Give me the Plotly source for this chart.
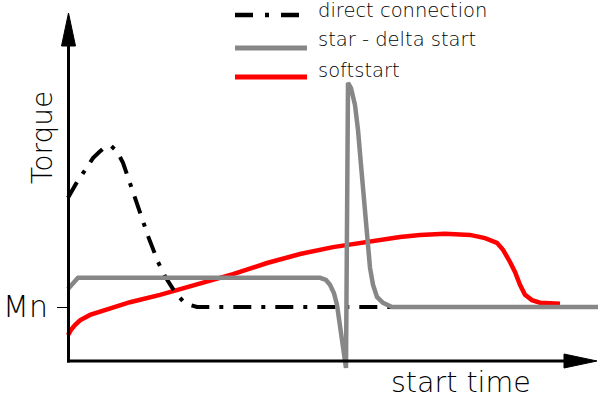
import plotly.graph_objects as go

# ---- data (time in arbitrary units, torque in multiples of Mn) ----
direct_t = [0, 1.8, 3.4, 5.0, 6.2, 7.4, 8.6, 9.8, 11.0, 12.0, 13.0, 14.0, 15.0, 16.0,
            17.0, 18.0, 19.4, 21.4, 23.0, 24.4, 25.8, 104.4]
direct_T = [3.06, 3.36, 3.58, 3.81, 3.92, 4.02, 4.04, 3.94, 3.72, 3.43, 3.17, 2.89, 2.62, 2.34,
            2.08, 1.85, 1.58, 1.28, 1.11, 1.04, 1.0, 1.0]

stardelta_t = [0, 1.0, 2.0, 50.4, 51.6, 52.4, 53.2, 53.8, 54.4, 55.0, 55.6, 56.0, 56.6, 57.4,
               58.0, 58.6, 59.2, 59.6, 60.0, 60.4, 61.0, 61.8, 63.0, 64.8, 106]
stardelta_T = [1.34, 1.45, 1.55, 1.55, 1.51, 1.42, 1.26, 1.04, 0.66, 0.23, -0.15, 5.23, 5.13, 4.81,
               4.34, 3.68, 3.02, 2.55, 2.08, 1.74, 1.42, 1.19, 1.08, 1.0, 1.0]

soft_t = [0, 0.6, 1.4, 2.4, 4.4, 8.4, 12.4, 18.4, 23.4, 28.4, 33.0, 39.8, 46.4, 53.0, 59.8,
          66.4, 70.4, 75.4, 80.4, 83.4, 85.8, 87.0, 88.4, 89.4, 90.4, 91.4, 92.8, 94.4, 98.4]
soft_T = [0.47, 0.57, 0.66, 0.75, 0.85, 0.98, 1.09, 1.23, 1.36, 1.49, 1.62, 1.83, 2.00, 2.13, 2.23,
          2.32, 2.36, 2.38, 2.36, 2.30, 2.21, 2.08, 1.85, 1.66, 1.42, 1.23, 1.13, 1.08, 1.06]

series_names = ["direct connection", "star - delta start", "softstart"]
axis_labels = {"y": "Torque", "x": "start time", "tick": "Mn"}

W, H = 598, 400
FONT = "DejaVu Sans"
WEIGHT = 300


def px(x):
    return x / W


def py(y):
    return 1 - y / H


fig = go.Figure()
fig.add_trace(go.Scatter(x=soft_t, y=soft_T, mode="lines", name=series_names[2],
                         line=dict(color="#ff0000", width=4.5)))
fig.add_trace(go.Scatter(x=direct_t, y=direct_T, mode="lines", name=series_names[0],
                         line=dict(color="#000000", width=4, dash="18px,10px,4px,10px")))
fig.add_trace(go.Scatter(x=stardelta_t, y=stardelta_T, mode="lines", name=series_names[1],
                         line=dict(color="#878787", width=4.5)))

shapes = []
# axes
shapes.append(dict(type="line", xref="paper", yref="paper", x0=px(67), y0=py(361), x1=px(566), y1=py(361),
                   line=dict(color="black", width=3)))
shapes.append(dict(type="line", xref="paper", yref="paper", x0=px(68.5), y0=py(362.5), x1=px(68.5), y1=py(44),
                   line=dict(color="black", width=3)))
# arrow heads
shapes.append(dict(type="path", xref="paper", yref="paper",
                   path=f"M {px(61.5)},{py(46)} L {px(68.5)},{py(13)} L {px(75.5)},{py(46)} Z",
                   fillcolor="black", line=dict(color="black", width=1)))
shapes.append(dict(type="path", xref="paper", yref="paper",
                   path=f"M {px(564)},{py(354)} L {px(597)},{py(361)} L {px(564)},{py(368)} Z",
                   fillcolor="black", line=dict(color="black", width=1)))
# Mn tick
shapes.append(dict(type="line", xref="paper", yref="paper", x0=px(57), y0=py(307.5), x1=px(68), y1=py(307.5),
                   line=dict(color="black", width=1)))
# legend samples
leg_y = [15, 48, 77]
shapes.append(dict(type="line", xref="paper", yref="paper", x0=px(235), y0=py(leg_y[0]), x1=px(300), y1=py(leg_y[0]),
                   line=dict(color="black", width=4.5, dash="18px,12px,4px,12px")))
shapes.append(dict(type="line", xref="paper", yref="paper", x0=px(235), y0=py(leg_y[1]), x1=px(307), y1=py(leg_y[1]),
                   line=dict(color="#878787", width=5)))
shapes.append(dict(type="line", xref="paper", yref="paper", x0=px(235), y0=py(leg_y[2]), x1=px(307), y1=py(leg_y[2]),
                   line=dict(color="#ff0000", width=5)))

annotations = []
for name, y in zip(series_names, [10, 40, 70]):
    annotations.append(dict(text=name, xref="paper", yref="paper", x=px(316), y=py(y),
                            xanchor="left", yanchor="middle", showarrow=False,
                            font=dict(family=FONT, size=19.5, color="black", weight=WEIGHT)))
annotations.append(dict(text=axis_labels["y"], xref="paper", yref="paper", x=px(42), y=py(138),
                        xanchor="center", yanchor="middle", textangle=-90, showarrow=False,
                        font=dict(family=FONT, size=28, color="black", weight=WEIGHT)))
annotations.append(dict(text=axis_labels["tick"], xref="paper", yref="paper", x=px(25), y=py(306),
                        xanchor="center", yanchor="middle", showarrow=False,
                        font=dict(family=FONT, size=30, color="black", weight=WEIGHT)))
annotations.append(dict(text=axis_labels["x"], xref="paper", yref="paper", x=px(461), y=py(382),
                        xanchor="center", yanchor="middle", showarrow=False,
                        font=dict(family=FONT, size=28.5, color="black", weight=WEIGHT)))

fig.update_layout(
    width=W, height=H,
    margin=dict(l=0, r=0, t=0, b=0),
    paper_bgcolor="white", plot_bgcolor="white",
    showlegend=False,
    xaxis=dict(visible=False, range=[-68 / 5, (W - 68) / 5], fixedrange=True),
    yaxis=dict(visible=False, range=[-40 / 53, 360 / 53], fixedrange=True),
    shapes=shapes,
    annotations=annotations,
)

fig.write_html("out.html", config={"displayModeBar": False},
               post_script="document.body.style.margin='0';document.body.style.overflow='hidden';")
